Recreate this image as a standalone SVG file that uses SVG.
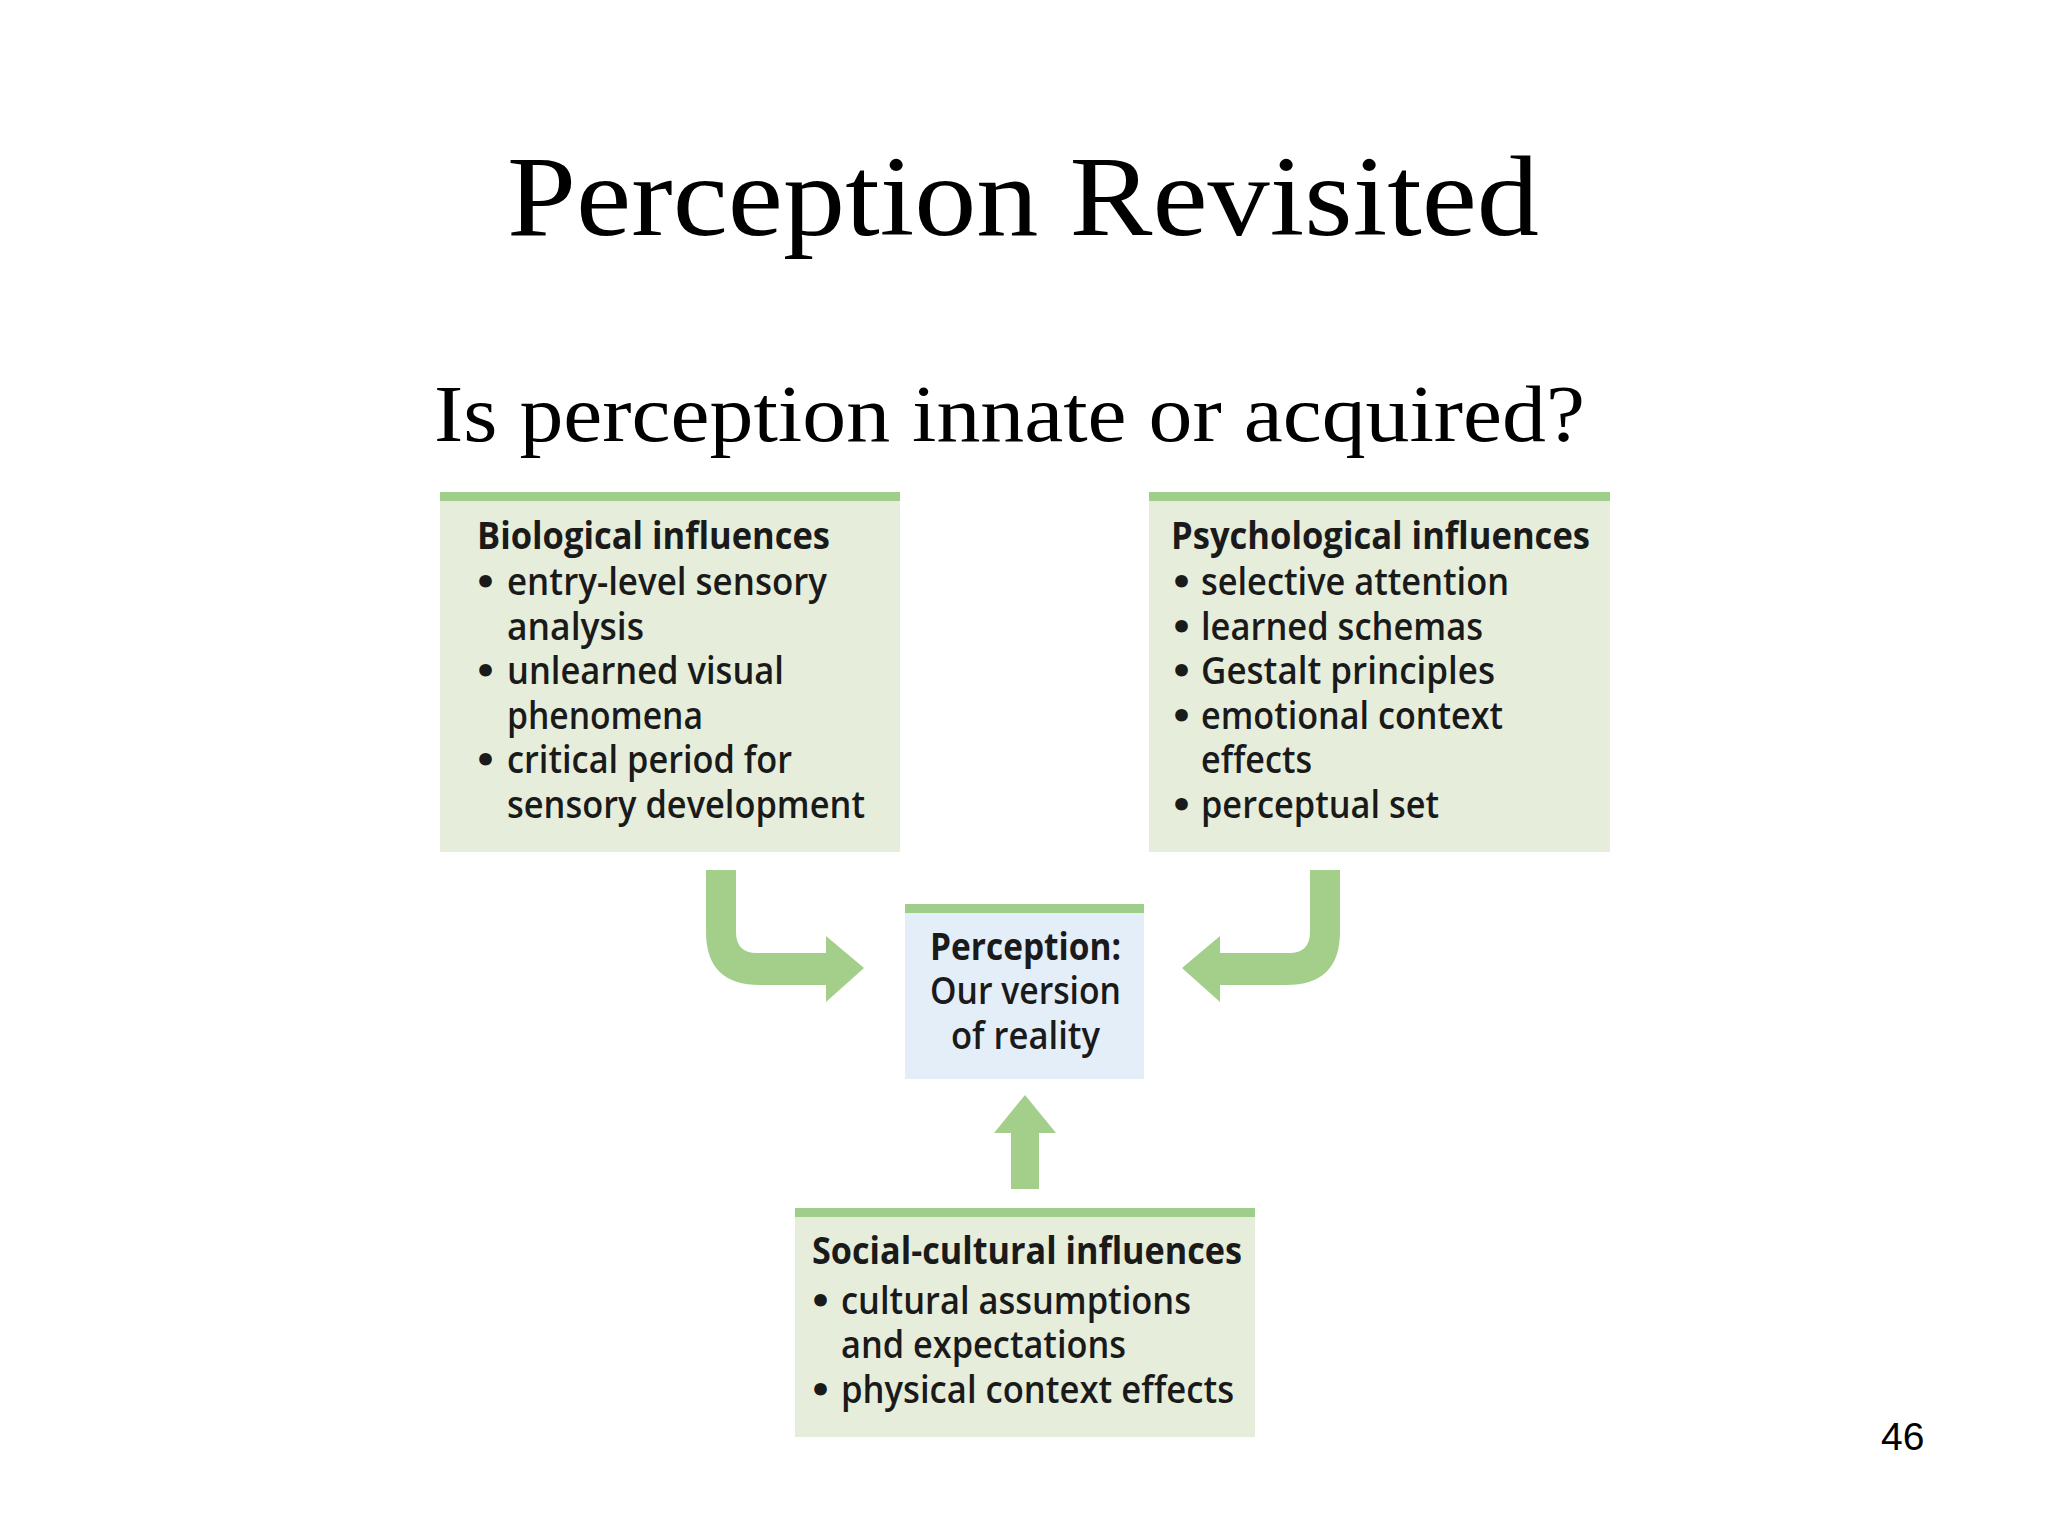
<svg xmlns="http://www.w3.org/2000/svg" width="2048" height="1536" viewBox="0 0 2048 1536">
<style>
.box{fill:#e6eedb}
.bar{fill:#9fce8a}
.arr{fill:#a3cf8b}
.t{font-family:"Open Sans","Noto Sans",sans-serif;font-size:38px;fill:#1a1a1a;font-weight:600}
.h{font-weight:700}
.b{font-family:"DejaVu Sans",sans-serif;font-size:36px;fill:#1a1a1a;font-weight:700}
.serif{font-family:"Liberation Serif","DejaVu Serif",serif;fill:#000}
</style>
<rect width="2048" height="1536" fill="#fff"/>
<text class="serif" x="507" y="235" font-size="114" textLength="1032" lengthAdjust="spacingAndGlyphs">Perception Revisited</text>
<text class="serif" x="434" y="441" font-size="80" textLength="1151" lengthAdjust="spacingAndGlyphs">Is perception innate or acquired?</text>
<text x="1881" y="1450" font-family="Liberation Sans, sans-serif" font-size="39">46</text>

<g id="bio">
<rect class="box" x="440" y="492" width="460" height="360"/>
<rect class="bar" x="440" y="492" width="460" height="9"/>
<text class="t h" x="477" y="549" textLength="353" lengthAdjust="spacingAndGlyphs">Biological influences</text>
<text class="b" x="474" y="595">•</text><text class="t" x="507" y="595" textLength="320" lengthAdjust="spacingAndGlyphs">entry-level sensory</text>
<text class="t" x="507" y="640" textLength="137" lengthAdjust="spacingAndGlyphs">analysis</text>
<text class="b" x="474" y="684">•</text><text class="t" x="507" y="684" textLength="277" lengthAdjust="spacingAndGlyphs">unlearned visual</text>
<text class="t" x="507" y="729" textLength="196" lengthAdjust="spacingAndGlyphs">phenomena</text>
<text class="b" x="474" y="773">•</text><text class="t" x="507" y="773" textLength="285" lengthAdjust="spacingAndGlyphs">critical period for</text>
<text class="t" x="507" y="818" textLength="358" lengthAdjust="spacingAndGlyphs">sensory development</text>
</g>

<g id="psych">
<rect class="box" x="1149" y="492" width="461" height="360"/>
<rect class="bar" x="1149" y="492" width="461" height="9"/>
<text class="t h" x="1171" y="549" textLength="419" lengthAdjust="spacingAndGlyphs">Psychological influences</text>
<text class="b" x="1170" y="595">•</text><text class="t" x="1201" y="595" textLength="308" lengthAdjust="spacingAndGlyphs">selective attention</text>
<text class="b" x="1170" y="640">•</text><text class="t" x="1201" y="640" textLength="282" lengthAdjust="spacingAndGlyphs">learned schemas</text>
<text class="b" x="1170" y="684">•</text><text class="t" x="1201" y="684" textLength="294" lengthAdjust="spacingAndGlyphs">Gestalt principles</text>
<text class="b" x="1170" y="729">•</text><text class="t" x="1201" y="729" textLength="302" lengthAdjust="spacingAndGlyphs">emotional context</text>
<text class="t" x="1201" y="773" textLength="111" lengthAdjust="spacingAndGlyphs">effects</text>
<text class="b" x="1170" y="818">•</text><text class="t" x="1201" y="818" textLength="238" lengthAdjust="spacingAndGlyphs">perceptual set</text>
</g>

<g id="perception">
<rect x="905" y="904" width="239" height="175" fill="#e4eef8"/>
<rect class="bar" x="905" y="904" width="239" height="9"/>
<text class="t h" x="930" y="960" textLength="191" lengthAdjust="spacingAndGlyphs">Perception:</text>
<text class="t" x="930" y="1004" textLength="191" lengthAdjust="spacingAndGlyphs">Our version</text>
<text class="t" x="951" y="1049" textLength="149" lengthAdjust="spacingAndGlyphs">of reality</text>
</g>

<g id="social">
<rect class="box" x="795" y="1208" width="460" height="229"/>
<rect class="bar" x="795" y="1208" width="460" height="9"/>
<text class="t h" x="812" y="1264" textLength="430" lengthAdjust="spacingAndGlyphs">Social-cultural influences</text>
<text class="b" x="809" y="1314">•</text><text class="t" x="841" y="1314" textLength="350" lengthAdjust="spacingAndGlyphs">cultural assumptions</text>
<text class="t" x="841" y="1358" textLength="285" lengthAdjust="spacingAndGlyphs">and expectations</text>
<text class="b" x="809" y="1403">•</text><text class="t" x="841" y="1403" textLength="393" lengthAdjust="spacingAndGlyphs">physical context effects</text>
</g>

<g id="connectors">
<path class="arr" d="M706,870 H736 V932 Q736,953 757,953 H826 V936 L864,968 L826,1002 V985 H760 Q706,985 706,932 Z"/>
<path class="arr" transform="translate(2046,0) scale(-1,1)" d="M706,870 H736 V932 Q736,953 757,953 H826 V936 L864,968 L826,1002 V985 H760 Q706,985 706,932 Z"/>
<path class="arr" d="M1011,1189 V1133 H994 L1025,1095 L1056,1133 H1039 V1189 Z"/>
</g>
</svg>
